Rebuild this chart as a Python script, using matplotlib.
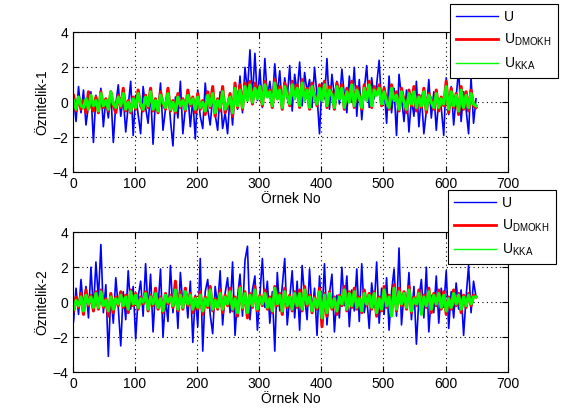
import numpy as np
import matplotlib
matplotlib.use("Agg")
import matplotlib.pyplot as plt

plt.rcParams['font.family'] = ['Liberation Sans', 'DejaVu Sans']
plt.rcParams['mathtext.fontset'] = 'custom'
plt.rcParams['mathtext.rm'] = 'Liberation Sans'
plt.rcParams['mathtext.it'] = 'Liberation Sans'
plt.rcParams['font.size'] = 10

# sample index (every 4th sample)
samples = np.arange(1, 650, 4)

u1 = [0.3, -1.1, 0.9, -0.6, 0.7, -1.3, -0.2, 0.6, -2.3, 0.4,
      -0.5, 0.8, -1.4, 0.2, -0.9, 0.5, -2.3, -0.1, 1.0, -0.8,
      0.3, -1.7, -0.2, 1.2, -1.9, 0.4, -0.7, -1.8, 0.9, -0.3,
      -1.2, 0.6, -2.4, 0.2, -0.6, 1.1, -1.6, -0.4, 0.8, -1.0,
      -2.5, 0.3, -0.9, 1.2, -1.8, -0.3, 0.5, -1.4, 0.2, -2.1,
      0.7, -0.8, -1.5, 1.1, -0.4, -1.3, 0.3, -0.7, -1.6, 0.6,
      -1.5, -0.6, -1.8, 0.4, -1.3, 0.9, -0.4, 1.5, -0.6, 2.0,
      0.6, 3.0, 0.2, 2.8, 0.1, 1.9, -0.3, 2.5, 0.3, 1.2,
      0.0, 2.2, 0.4, 1.8, -0.3, 1.4, 0.2, 2.1, -0.5, 1.6,
      0.5, 2.3, -0.2, 1.7, 0.6, 1.3, -0.3, 2.0, 0.4, -1.8,
      1.1, 0.2, 2.5, -0.4, 1.6, 0.3, 1.2, -0.1, 1.9, 0.4,
      -0.6, 1.5, 0.0, 2.0, -0.8, 1.3, -1.0, 0.7, 2.1, -0.3,
      1.4, 0.2, 1.0, 2.4, -0.2, 0.9, -1.2, 1.5, -0.6, 0.8,
      -1.9, 1.6, 0.3, -1.1, 0.7, -1.7, 0.2, -0.8, 1.2, -1.4,
      0.4, -1.8, -0.5, 1.3, -0.9, 0.6, -1.6, 0.2, -0.3, -1.9,
      1.4, -0.7, 0.9, -1.3, 0.3, 1.9, -1.1, 0.6, -0.4, -1.8,
      1.4, -1.2, 0.2]
dmokh1 = [0.4, -0.5, 0.3, -0.4, 0.1, -0.6, 0.6, -0.2, -0.5, 0.3,
          -0.6, 0.6, -0.3, 0.2, -0.5, 0.6, -0.2, -0.6, 0.4, -0.3,
          0.8, -0.5, 0.1, -0.6, 0.3, -0.4, 0.7, -0.2, -0.5, 0.4,
          -0.3, 0.8, -0.5, 0.2, -0.6, 0.6, -0.1, -0.4, 0.8, -0.5,
          0.1, -0.6, 0.5, -0.3, 0.2, -0.5, 0.7, -0.2, 0.3, -0.6,
          0.5, -0.4, 0.1, -0.7, 0.6, -0.3, 0.9, -0.8, 0.2, -0.5,
          0.9, -0.6, -0.2, 0.5, -0.8, 1.1, -0.3, 1.0, -0.4, 1.1,
          0.2, 1.2, -0.1, 1.1, 0.3, 0.9, -0.2, 1.2, 0.4, 0.7,
          -0.3, 1.3, 0.2, 0.9, -0.4, 1.1, 0.5, -0.2, 1.2, 0.3,
          1.0, -0.3, 1.3, 0.2, 0.8, -0.4, 1.1, 0.4, -0.2, 1.0,
          0.2, 1.2, -0.3, 0.9, 0.5, -0.4, 1.1, 0.3, 1.0, -0.4,
          0.8, 0.1, 1.2, -0.3, 0.9, 0.4, -0.4, 1.0, 0.2, 1.2,
          -0.3, 0.9, 0.5, 1.0, -0.2, 0.8, 0.1, -0.4, 1.0, 0.2,
          0.6, -0.5, 0.8, 0.1, -0.6, 0.7, -0.2, 0.9, -0.5, 0.4,
          -0.3, 0.8, -0.6, 0.5, 0.1, -0.4, 0.7, -0.5, 0.3, -0.2,
          1.2, -0.6, 0.8, -0.3, 0.5, -0.7, 0.9, -0.4, 0.6, -0.5,
          0.7, -0.2, -0.3]
kka1 = [0.1, -0.4, 0.3, -0.2, -0.3, 0.2, -0.4, 0.4, -0.2, 0.1,
        -0.5, 0.5, -0.2, 0.1, -0.4, 0.6, -0.1, -0.3, 0.3, -0.2,
        0.5, -0.4, 0.0, -0.5, 0.2, -0.3, 0.5, -0.1, -0.4, 0.3,
        -0.2, 0.6, -0.4, 0.1, -0.5, 0.4, 0.0, -0.3, 0.5, -0.4,
        0.0, -0.5, 0.3, -0.2, 0.1, -0.4, 0.4, -0.1, 0.2, -0.4,
        0.3, -0.3, 0.0, -0.5, 0.4, -0.2, 0.5, -0.6, 0.1, -0.3,
        0.6, -0.4, -0.1, 0.3, -0.6, 0.8, -0.2, 0.7, -0.3, 0.9,
        0.1, 1.0, 0.0, 0.8, 0.2, 0.9, -0.1, 1.0, 0.3, 0.6,
        -0.2, 1.1, 0.2, 0.7, -0.3, 0.9, 0.4, -0.1, 1.0, 0.2,
        0.8, -0.2, 1.1, 0.1, 0.7, -0.3, 0.9, 0.3, -0.1, 0.8,
        0.1, 1.0, -0.2, 0.7, 0.4, -0.3, 0.9, 0.2, 0.8, -0.3,
        0.6, 0.0, 1.0, -0.2, 0.7, 0.3, -0.3, 0.8, 0.1, 1.0,
        -0.2, 0.7, 0.4, 0.8, -0.1, 0.6, 0.0, -0.3, 0.8, 0.1,
        0.4, -0.4, 0.6, 0.0, -0.4, 0.5, -0.1, 0.6, -0.3, 0.3,
        -0.2, 0.6, -0.4, 0.4, 0.0, -0.3, 0.5, -0.3, 0.2, -0.1,
        0.9, -0.4, 0.6, -0.2, 0.4, -0.5, 0.7, -0.3, 0.4, -0.3,
        0.5, -0.1, -0.2]

u2 = [-1.1, 0.8, -0.7, 1.3, -0.4, 0.9, -0.9, 2.0, -0.5, 2.3,
      0.2, 3.3, -0.6, 1.0, -3.1, 0.5, -1.2, 1.4, -0.3, -2.5,
      0.6, -1.0, 1.8, -0.4, 0.9, -2.1, 0.3, 1.2, -0.8, 2.2,
      -0.5, 1.6, -1.7, 0.7, -0.3, 1.9, -2.0, 0.2, -1.1, 2.1,
      -0.6, 1.0, -1.5, 1.7, -0.2, 0.8, -0.9, 1.2, -2.3, 0.4,
      -1.4, 2.5, -2.8, 0.6, 1.3, -0.7, -1.8, 0.9, -0.2, 1.8,
      -1.3, 0.5, 1.4, -0.6, 2.3, -1.9, 0.3, 1.6, -0.8, 2.4,
      3.2, -1.0, 0.7, 1.5, -1.6, 0.4, 2.5, -0.3, 1.2, -1.2,
      0.6, -2.8, 1.7, -0.5, 0.9, 2.5, -1.3, 0.2, 1.8, -0.9,
      1.2, -1.6, 2.1, 0.3, -1.0, 1.9, -0.6, 0.8, -1.9, 1.5,
      -0.8, 2.2, -1.3, 0.5, 1.6, -1.7, 0.4, -0.9, 2.0, -0.2,
      1.5, -1.4, 0.7, -0.5, 1.9, -1.1, 2.2, -0.6, 0.3, -1.5,
      1.1, -0.3, 2.3, -1.2, 0.8, -0.7, 1.4, -1.6, 0.6, 1.9,
      -0.8, 3.1, -1.3, 0.5, -0.4, 1.7, -1.0, 0.9, -2.4, 0.2,
      1.3, -0.9, 2.0, -1.7, 0.4, -0.6, 1.5, -1.2, 0.8, -0.3,
      1.8, -1.5, 0.6, -0.9, 1.1, -0.4, 0.7, -1.9, 0.3, 2.1,
      -0.6, 1.2, 0.3]
dmokh2 = [-0.5, 0.3, -0.3, 0.5, -0.7, 0.7, -0.2, 0.4, -0.5, 0.6,
          -0.4, 0.7, -0.3, 0.2, -0.8, 0.5, -0.6, 0.3, -0.2, 0.6,
          -0.3, 0.4, -0.6, 0.7, -0.2, 0.5, -0.4, 0.3, -0.1, 0.6,
          -0.5, 0.4, -0.2, 0.8, -0.4, 0.3, -0.6, 0.5, -0.1, 0.4,
          -0.3, 1.2, -0.5, 0.6, -0.4, 0.8, -0.2, 0.5, -0.6, 0.3,
          -0.4, 0.6, -0.7, 0.3, -0.3, 0.9, -0.5, 0.2, -0.4, 0.7,
          -0.6, 0.4, -0.2, 0.8, -0.5, 0.3, -0.8, 0.9, -0.4, 0.6,
          -0.9, 0.5, -0.3, 0.9, -0.5, 0.4, -0.2, 0.7, -0.4, 0.3,
          -0.6, 0.9, -0.2, 0.5, -0.7, 0.8, -0.3, 0.4, -0.5, 0.6,
          -0.3, 0.7, -0.5, 0.9, -0.2, 0.4, -0.6, 0.3, -0.4, 0.8,
          -1.4, 0.5, -0.8, 0.6, -0.4, 0.3, -0.7, 0.4, -0.2, 0.9,
          -0.5, 0.6, -0.3, 0.8, -0.4, 0.3, -0.6, 0.7, -0.2, 0.5,
          -0.4, 0.6, -0.8, 0.3, -0.5, 0.9, -0.3, 0.4, -0.6, 1.0,
          -0.5, 0.8, -0.2, 0.6, -0.4, 0.9, -0.6, 0.3, -0.2, 0.7,
          -0.5, 0.4, -0.3, 0.8, -0.6, 0.5, -0.2, 0.7, -0.4, 0.6,
          -0.7, 0.3, -0.4, 0.7, -0.2, 0.5, -0.6, 0.4, -0.3, 0.5,
          -0.2, 0.4, 0.3]
kka2 = [-0.4, 0.1, -0.2, 0.3, -0.5, 0.4, -0.1, 0.3, -0.3, 0.5,
        -0.3, 0.6, -0.2, 0.1, -0.5, 0.3, -0.4, 0.2, -0.1, 0.4,
        -0.2, 0.3, -0.4, 0.6, -0.1, 0.4, -0.3, 0.2, 0.0, 0.5,
        -0.4, 0.3, -0.1, 0.5, -0.3, 0.2, -0.5, 0.4, 0.0, 0.3,
        -0.2, 0.7, -0.4, 0.4, -0.3, 0.6, -0.1, 0.4, -0.4, 0.2,
        -0.3, 0.4, -0.5, 0.2, -0.2, 0.7, -0.4, 0.1, -0.3, 0.5,
        -0.4, 0.3, -0.1, 0.6, -0.4, 0.2, -0.6, 0.8, -0.3, 0.5,
        -0.6, 0.4, -0.2, 0.7, -0.4, 0.3, -0.1, 0.5, -0.3, 0.2,
        -0.5, 0.8, -0.1, 0.4, -0.5, 0.6, -0.2, 0.3, -0.4, 0.5,
        -0.2, 0.5, -0.4, 0.7, -0.1, 0.3, -0.5, 0.2, -0.3, 0.6,
        -0.9, 0.4, -0.6, 0.5, -0.3, 0.2, -0.5, 0.3, -0.1, 0.7,
        -0.4, 0.5, -0.2, 0.6, -0.3, 0.2, -0.5, 0.5, -0.1, 0.4,
        -0.3, 0.5, -0.6, 0.2, -0.4, 0.7, -0.2, 0.3, -0.8, 0.8,
        -0.4, 0.6, -0.1, 0.5, -0.3, 0.7, -0.5, 0.2, -0.1, 0.5,
        -0.7, 0.3, -0.2, 0.6, -0.4, 0.4, -0.1, 0.5, -0.3, 0.4,
        -0.5, 0.2, -0.3, 0.5, -0.1, 0.4, -0.4, 0.3, -0.2, 0.4,
        -0.1, 0.3, 0.3]

labels = ['U', r'$\mathrm{U_{DMOKH}}$', r'$\mathrm{U_{KKA}}$']
ylabels = ['Öznitelik-1', 'Öznitelik-2']
xlabel = 'Örnek No'

fig = plt.figure(figsize=(5.61, 4.2), dpi=100)
ax1 = fig.add_axes([0.130, 0.590, 0.775, 0.333])
ax2 = fig.add_axes([0.130, 0.114, 0.775, 0.333])

panels = [(ax1, u1, dmokh1, kka1, (1.115, 0.671)),
          (ax2, u2, dmokh2, kka2, (1.110, 0.771))]

for i, (ax, u, dm, kk, anchor) in enumerate(panels):
    ax.plot(samples, u, color='#0000ff', lw=1.2, label=labels[0])
    ax.plot(samples, dm, color='#ff0000', lw=2.2, label=labels[1])
    ax.plot(samples, kk, color='#00ff00', lw=2.2, label=labels[2])
    ax.set_xlim(0, 700)
    ax.set_ylim(-4, 4)
    ax.set_xticks(range(0, 701, 100))
    ax.set_yticks([-4, -2, 0, 2, 4])
    ax.grid(True, color='black', linestyle=(0, (1, 3)), lw=0.8)
    ax.tick_params(direction='in', top=True, right=True, length=4, width=0.8)
    for s in ax.spines.values():
        s.set_linewidth(0.8)
    ax.set_xlabel(xlabel, labelpad=1)
    ax.set_ylabel(ylabels[i], labelpad=2)
    leg = ax.legend(loc='lower right', bbox_to_anchor=anchor, fancybox=False,
                    framealpha=1, edgecolor='black', handlelength=3.0,
                    handletextpad=0.45, borderaxespad=0, labelspacing=0.55,
                    borderpad=0.45)
    leg.get_frame().set_linewidth(0.8)
    leg_lines = leg.get_lines()
    leg_lines[0].set_linewidth(1.0)
    leg_lines[1].set_linewidth(2.0)
    leg_lines[2].set_linewidth(1.0)

fig.savefig('out.png', dpi=100, facecolor='white')
